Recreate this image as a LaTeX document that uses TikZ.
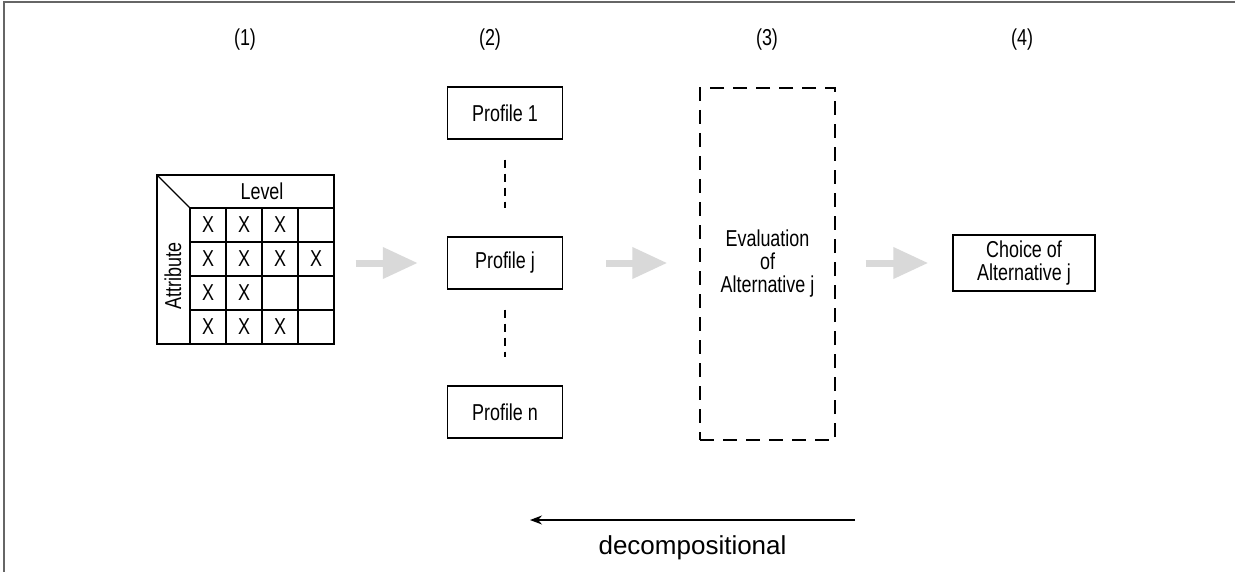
\documentclass[tikz,border=0pt]{standalone}
\usepackage{fontspec}
\usepackage{tikz}
\newfontfamily\condsans[FakeStretch=0.78]{Liberation Sans}
\newfontfamily\plainsans{Liberation Sans}
\usetikzlibrary{arrows.meta}
\tikzstyle{every node}=[font=\condsans\fontsize{11.5}{11.5}\selectfont]
\tikzstyle{box}=[draw, line width=0.7pt, inner sep=0pt, align=center]
\tikzstyle{profile}=[box, minimum width=57.5pt, minimum height=26pt]
\tikzstyle{flow}=[gray!30, line width=3.5pt, -{Triangle[length=17.5pt,width=15pt]}]
\tikzstyle{vdots}=[dash pattern=on 4pt off 3pt, line width=0.6pt]

\begin{document}
\begin{tikzpicture}[x=0.5pt, y=-0.5pt]
    \useasboundingbox (0,0) rectangle (1235,572);
    \draw [black!60, line width=0.6pt] (4,572) -- (4,2) -- (1235,2);

    % stage numbers
    \node (n1) at (245,40) {(1)};
    \node (n2) at (490,40) {(2)};
    \node (n3) at (767,40) {(3)};
    \node (n4) at (1022,40) {(4)};

    % attribute / level table
    \node [box, minimum width=88.5pt, minimum height=84.5pt] (attr) at (245.5,259.5) {};
    \draw [line width=0.7pt] (157,175) -- (190,208);
    \draw [line width=0.7pt] (190,344) -- (190,208) -- (334,208);
    \foreach \x in {226,262,298}
        \draw [line width=0.6pt] (\x,208) -- (\x,344);
    \foreach \y in {242,276,310}
        \draw [line width=0.6pt] (190,\y) -- (334,\y);
    \node (level) at (262,191) {Level};
    \node [rotate=90] (attrib) at (173,276) {Attribute};
    \foreach \c/\r in {1/1,2/1,3/1,1/2,2/2,3/2,4/2,1/3,2/3,1/4,2/4,3/4}
        \node (x\c\r) at (172+36*\c, 191+34*\r) {X};

    % profiles
    \node [profile] (p1) at (505,113) {Profile 1};
    \node [profile] (pj) at (505,263) {Profile j};
    \node [profile] (pn) at (505,412) {Profile n};
    \draw [vdots, shorten <=10pt, shorten >=14pt] (p1) -- (pj);
    \draw [vdots, shorten <=10pt, shorten >=14pt] (pj) -- (pn);

    \node [box, dash pattern=on 7pt off 4.5pt, minimum width=67.5pt, minimum height=176pt] (eval) at (767.5,264) {Evaluation\\of\\Alternative j};
    \node [box, minimum width=71pt, minimum height=28pt] (choice) at (1024,263) {Choice of\\Alternative j};

    \draw [flow, shorten <=10.5pt, shorten >=14.5pt] (attr.east |- pj.west) -- (pj.west);
    \draw [flow, shorten <=21.5pt, shorten >=16pt] (pj.east) -- (eval.west |- pj.east);
    \draw [flow, shorten <=15pt, shorten >=12pt] (eval.east |- choice.west) -- (choice.west);

    % direction
    \coordinate (decR) at (855,520);
    \coordinate (decL) at (530,520);
    \draw [-{Stealth[length=6pt,width=4.5pt]}, line width=0.6pt] (decR) -- (decL)
        node [midway, below=4pt, font=\plainsans\fontsize{13}{13}\selectfont] (declab) {decompositional};
\end{tikzpicture}
\end{document}
